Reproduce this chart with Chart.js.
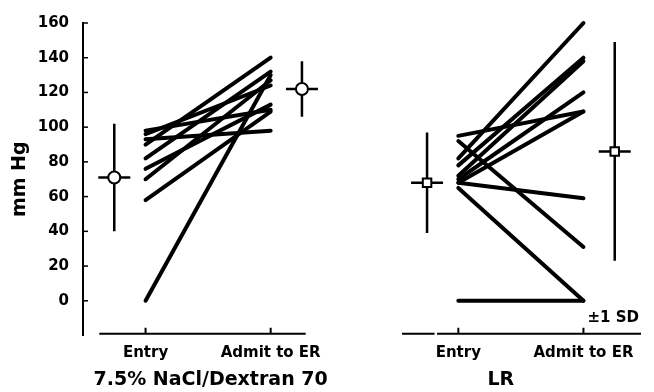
<!DOCTYPE html>
<html>
<head>
<meta charset="utf-8">
<script src="https://cdn.jsdelivr.net/npm/chart.js@4/dist/chart.umd.min.js"></script>
<style>
  html, body { margin: 0; padding: 0; background: #fff; }
</style>
</head>
<body>
<canvas id="chart" width="654" height="392"></canvas>
<script>
// time points and group names
const timeLabels = ['Entry', 'Admit to ER'];
const groupNames = ['7.5% NaCl/Dextran 70', 'LR'];
const yTickValues = [0, 20, 40, 60, 80, 100, 120, 140, 160];

// individual subjects, mm Hg
const naclEntry = [98, 96, 93, 90, 82, 76, 70, 58, 0];
const naclAdmit = [110, 124, 98, 140, 132, 113, 127, 109, 130];
const lrEntry = [95, 92, 82, 78, 72, 70, 68, 68, 65, 0];
const lrAdmit = [109, 31, 160, 140, 138, 120, 109, 59, 0, 0];

// group mean and SD at entry / admit
const naclMean = [71, 122];
const naclSD = [31, 16];
const lrMean = [68, 86];
const lrSD = [29, 63];

// where things sit on the x scale
const panelX = [[1, 2], [3.5, 4.5]];
const meanX = [[0.75, 2.25], [3.25, 4.75]];

Chart.defaults.font.family = '"DejaVu Sans", sans-serif';
Chart.defaults.font.weight = 'bold';
Chart.defaults.color = '#000';

function subjectLines(entry, admit, xs) {
  return entry.map((v, i) => ({
    type: 'line',
    data: [{ x: xs[0], y: v }, { x: xs[1], y: admit[i] }],
    borderColor: '#000',
    borderWidth: 4,
    borderCapStyle: 'round',
    pointRadius: 0,
    fill: false,
    clip: false
  }));
}

function meanMarkers(mean, xs, style) {
  return {
    type: 'scatter',
    data: mean.map((m, i) => ({ x: xs[i], y: m })),
    pointStyle: style,
    pointRadius: 6,
    pointBackgroundColor: '#fff',
    pointBorderColor: '#000',
    pointBorderWidth: 2,
    showLine: false,
    clip: false
  };
}

const groups = [
  { mean: naclMean, sd: naclSD, xs: meanX[0] },
  { mean: lrMean, sd: lrSD, xs: meanX[1] }
];

const panelPlugin = {
  id: 'panelPlugin',
  beforeDatasetsDraw(chart) {
    const { ctx, scales: { x, y } } = chart;
    ctx.save();
    ctx.strokeStyle = '#000';
    ctx.lineWidth = 2.5;
    groups.forEach(g => {
      g.mean.forEach((m, i) => {
        const px = x.getPixelForValue(g.xs[i]);
        const py = y.getPixelForValue(m);
        ctx.beginPath();
        ctx.moveTo(px, y.getPixelForValue(m + g.sd[i]));
        ctx.lineTo(px, y.getPixelForValue(m - g.sd[i]));
        ctx.moveTo(px - 16, py);
        ctx.lineTo(px + 16, py);
        ctx.stroke();
      });
    });
    ctx.restore();
  },
  afterDraw(chart) {
    const { ctx, scales: { x, y }, chartArea } = chart;
    ctx.save();
    ctx.strokeStyle = '#000';
    ctx.fillStyle = '#000';

    // y ticks pointing inward
    ctx.lineWidth = 1.5;
    const ax = chartArea.left;
    yTickValues.forEach(v => {
      const py = y.getPixelForValue(v);
      ctx.beginPath();
      ctx.moveTo(ax, py);
      ctx.lineTo(ax + 5, py);
      ctx.stroke();
    });

    // separate x axis under each panel
    const axisY = y.getPixelForValue(-19);
    const segments = [[0.63, 2.28], [3.05, 3.31], [3.33, 4.96]];
    ctx.lineWidth = 2;
    segments.forEach(s => {
      ctx.beginPath();
      ctx.moveTo(x.getPixelForValue(s[0]), axisY);
      ctx.lineTo(x.getPixelForValue(s[1]), axisY);
      ctx.stroke();
    });
    panelX.flat().forEach(v => {
      const px = x.getPixelForValue(v);
      ctx.beginPath();
      ctx.moveTo(px, axisY);
      ctx.lineTo(px, axisY - 6);
      ctx.stroke();
    });

    // group names under panels
    ctx.font = 'bold 19px "DejaVu Sans"';
    ctx.textAlign = 'center';
    ctx.textBaseline = 'alphabetic';
    ctx.fillText(groupNames[0], x.getPixelForValue(1.52), 385);
    ctx.fillText(groupNames[1], x.getPixelForValue(3.84), 385);

    ctx.font = 'bold 15px "DejaVu Sans"';
    ctx.textAlign = 'right';
    ctx.fillText('\u00b11 SD', chartArea.right - 7, 322);
    ctx.restore();
  }
};

new Chart(document.getElementById('chart'), {
  type: 'line',
  data: {
    datasets: [
      meanMarkers(naclMean, meanX[0], 'circle'),
      meanMarkers(lrMean, meanX[1], 'rect'),
      ...subjectLines(naclEntry, naclAdmit, panelX[0]),
      ...subjectLines(lrEntry, lrAdmit, panelX[1])
    ]
  },
  plugins: [panelPlugin],
  options: {
    responsive: false,
    animation: false,
    events: [],
    layout: { padding: { top: 19.5, right: 4, bottom: 0, left: 0 } },
    plugins: { legend: { display: false }, tooltip: { enabled: false } },
    scales: {
      x: {
        type: 'linear',
        min: 0.5,
        max: 5,
        grid: { display: false, drawTicks: false },
        border: { display: false },
        afterBuildTicks: s => { s.ticks = panelX.flat().map(v => ({ value: v })); },
        afterFit: s => { s.height = 56.5; },
        ticks: {
          autoSkip: false,
          maxRotation: 0,
          padding: 9,
          font: { size: 15, weight: 'bold' },
          callback: (v, i) => timeLabels[i % 2]
        }
      },
      y: {
        min: -20,
        max: 160,
        grid: { display: false, drawTicks: false },
        border: { display: true, color: '#000', width: 2 },
        afterBuildTicks: s => { s.ticks = yTickValues.map(v => ({ value: v })); },
        afterFit: s => { s.width = 83; },
        ticks: { padding: 14, font: { size: 15, weight: 'bold' } },
        title: {
          display: true,
          text: 'mm Hg',
          font: { size: 19, weight: 'bold' },
          padding: { top: 9, bottom: 0 }
        }
      }
    }
  }
});
</script>
</body>
</html>
